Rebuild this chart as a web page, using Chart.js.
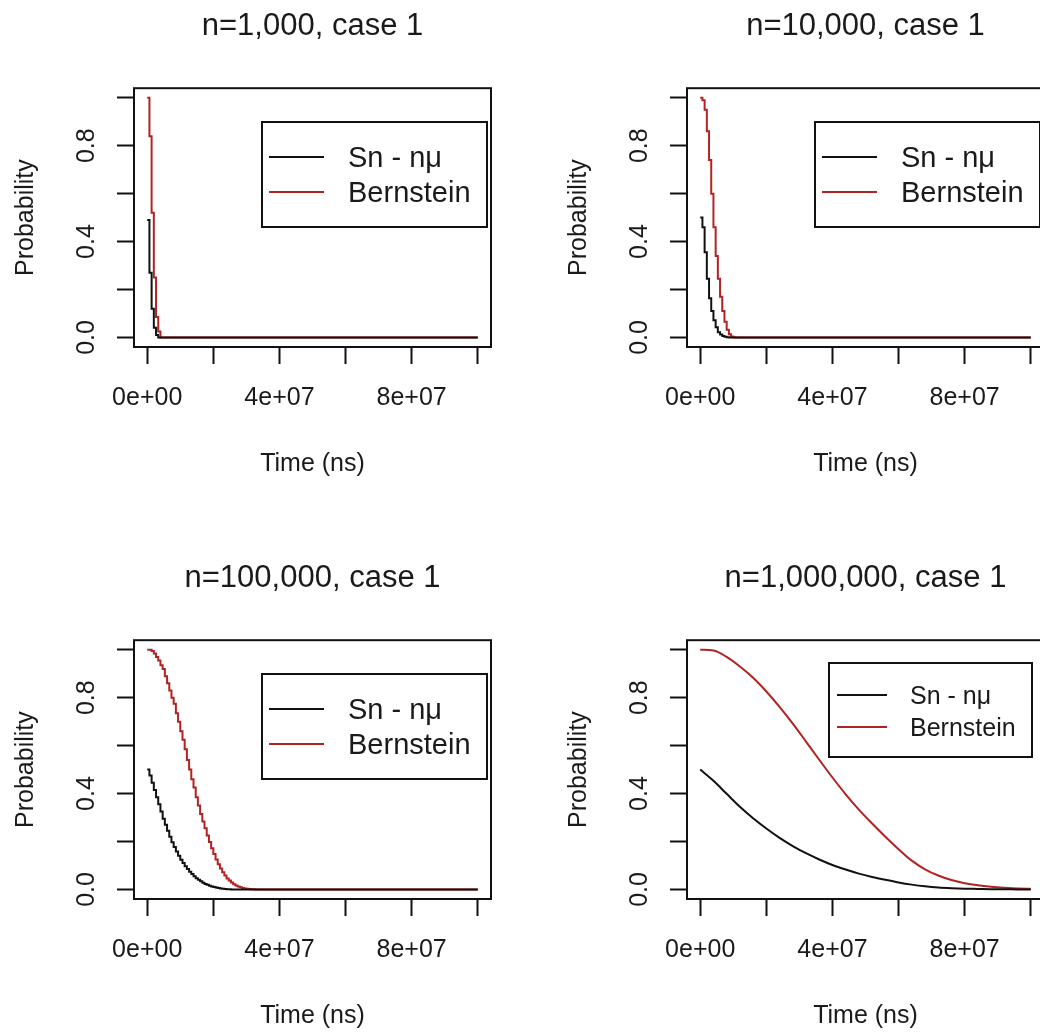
<!DOCTYPE html>
<html>
<head>
<meta charset="utf-8">
<script src="https://cdn.jsdelivr.net/npm/chart.js@4.4.1/dist/chart.umd.min.js"></script>
<style>
  html, body { margin: 0; padding: 0; background: #fff; overflow: hidden; width: 1040px; height: 1032px; }
  .panel { position: absolute; width: 552px; height: 552px; }
</style>
</head>
<body>
<div class="panel" style="left:0px;top:0px"><canvas id="p1" width="552" height="552"></canvas></div>
<div class="panel" style="left:553px;top:0px"><canvas id="p2" width="552" height="552"></canvas></div>
<div class="panel" style="left:0px;top:552px"><canvas id="p3" width="552" height="552"></canvas></div>
<div class="panel" style="left:553px;top:552px"><canvas id="p4" width="552" height="552"></canvas></div>
<script>
// sample times in units of 1e6 ns (the R grid, 1e8/150 apart)
const timeGrid = [0, 0.67, 1.33, 2, 2.67, 3.33, 4, 4.67, 5.33, 6, 6.67, 7.33, 8, 8.67, 9.33, 10,
  10.67, 11.33, 12, 12.67, 13.33, 14, 14.67, 15.33, 16, 16.67, 17.33, 18, 18.67, 19.33, 20,
  20.67, 21.33, 22, 22.67, 23.33, 24, 24.67, 25.33, 26, 26.67, 27.33, 28, 28.67, 29.33, 30,
  30.67, 31.33, 32, 32.67];
// coarser times for the n=1,000,000 panel
const coarseTime = [0, 4, 8, 12, 16, 20, 24, 28, 32, 36, 40, 44, 48, 52, 56, 60, 64, 68, 72, 76,
  80, 84, 88, 92, 96, 100];
const endTime = 100;

const n1kSn = [0.49, 0.27, 0.12, 0.04, 0.01, 0];
const n1kBern = [1.0, 0.84, 0.52, 0.25, 0.085, 0.025, 0];

const n10kSn = [0.50, 0.46, 0.355, 0.245, 0.163, 0.11, 0.072, 0.042, 0.022, 0.012, 0.006, 0.003, 0.001, 0];
const n10kBern = [1.0, 0.99, 0.95, 0.86, 0.74, 0.60, 0.46, 0.34, 0.245, 0.17, 0.11, 0.065, 0.032, 0.013, 0.004, 0.001, 0];

const n100kSn = [0.50, 0.475, 0.445, 0.415, 0.385, 0.355, 0.325, 0.295, 0.27, 0.245, 0.22, 0.197,
  0.177, 0.158, 0.14, 0.124, 0.11, 0.097, 0.085, 0.074, 0.064, 0.055, 0.047, 0.04, 0.034, 0.028,
  0.023, 0.019, 0.015, 0.012, 0.01, 0.008, 0.006, 0.004, 0.003, 0.002, 0.001, 0.001, 0];
const n100kBern = [1.0, 1.0, 0.995, 0.985, 0.97, 0.955, 0.935, 0.92, 0.89, 0.86, 0.83, 0.80, 0.775,
  0.735, 0.70, 0.66, 0.625, 0.585, 0.54, 0.50, 0.46, 0.425, 0.385, 0.35, 0.315, 0.283, 0.255,
  0.225, 0.198, 0.172, 0.148, 0.125, 0.105, 0.087, 0.072, 0.058, 0.046, 0.037, 0.029, 0.022,
  0.016, 0.012, 0.009, 0.006, 0.004, 0.003, 0.002, 0.001, 0.001, 0];

const n1mSn = [0.50, 0.453, 0.399, 0.345, 0.297, 0.254, 0.215, 0.181, 0.151, 0.125, 0.102, 0.083,
  0.066, 0.052, 0.04, 0.029, 0.02, 0.013, 0.008, 0.005, 0.003, 0.002, 0.001, 0.001, 0, 0];
const n1mBern = [1.0, 0.997, 0.97, 0.93, 0.883, 0.826, 0.762, 0.692, 0.617, 0.541, 0.467, 0.397,
  0.333, 0.275, 0.22, 0.168, 0.12, 0.084, 0.058, 0.039, 0.026, 0.017, 0.011, 0.007, 0.004, 0.003];

const xTickValues = [0, 2e7, 4e7, 6e7, 8e7, 1e8];
const xTickLabels = ['0e+00', '', '4e+07', '', '8e+07', ''];
const yTickValues = [0, 0.2, 0.4, 0.6, 0.8, 1];
const yTickLabels = ['0.0', '', '0.4', '', '0.8', ''];
const seriesNames = ['Sn - nμ', 'Bernstein'];
const seriesColors = ['#111111', '#b22222'];

const FONT = '"Liberation Sans", Arial, sans-serif';
Chart.defaults.font.family = FONT;
Chart.defaults.color = '#1a1a1a';

function toPoints(times, values) {
    const pts = values.map((v, i) => ({ x: times[i] * 1e6, y: v }));
    const last = times[values.length - 1];
    if (last < endTime) pts.push({ x: endTime * 1e6, y: values[values.length - 1] });
    return pts;
}

// the box round the plot region, as R draws it
const boxPlugin = {
    id: 'plotBox',
    afterDatasetsDraw(chart) {
        const { ctx, chartArea: a } = chart;
        ctx.save();
        ctx.strokeStyle = '#111';
        ctx.lineWidth = 2;
        ctx.strokeRect(a.left, a.top, a.right - a.left, a.bottom - a.top);
        ctx.restore();
    }
};

// R style legend box drawn inside the plot
function makeLegend(cfg) {
    return {
        id: 'rLegend',
        afterDraw(chart) {
            const ctx = chart.ctx;
            ctx.save();
            ctx.fillStyle = '#fff';
            ctx.fillRect(cfg.x, cfg.y, cfg.w, cfg.h);
            ctx.strokeStyle = '#111';
            ctx.lineWidth = 2;
            ctx.strokeRect(cfg.x, cfg.y, cfg.w, cfg.h);
            ctx.font = cfg.size + 'px ' + FONT;
            ctx.textBaseline = 'middle';
            ctx.fillStyle = '#1a1a1a';
            chart.data.datasets.forEach((ds, i) => {
                const y = cfg.rows[i];
                ctx.strokeStyle = ds.borderColor;
                ctx.lineWidth = 2;
                ctx.beginPath();
                ctx.moveTo(cfg.x1, y);
                ctx.lineTo(cfg.x2, y);
                ctx.stroke();
                ctx.fillText(ds.label, cfg.textX, y + 2);
            });
            ctx.restore();
        }
    };
}

function makePanel(id, title, snPts, bernPts, legendCfg, stepped) {
    const tickGrid = { drawOnChartArea: false, drawTicks: true, tickLength: 17, tickColor: '#111', tickWidth: 2 };
    return new Chart(document.getElementById(id), {
        type: 'line',
        data: {
            datasets: [
                { label: seriesNames[0], data: snPts, borderColor: seriesColors[0], borderWidth: 2,
                  pointRadius: 0, fill: false, stepped: stepped, cubicInterpolationMode: 'monotone' },
                { label: seriesNames[1], data: bernPts, borderColor: seriesColors[1], borderWidth: 2,
                  pointRadius: 0, fill: false, stepped: stepped, cubicInterpolationMode: 'monotone' }
            ]
        },
        options: {
            responsive: false,
            animation: false,
            events: [],
            layout: { padding: { left: 0, right: 61, top: 0, bottom: 0 } },
            plugins: {
                legend: { display: false },
                tooltip: { enabled: false },
                title: {
                    display: true, text: title, fullSize: false, color: '#1a1a1a',
                    font: { size: 31, weight: 'normal' },
                    padding: { top: 8, bottom: 43 }
                }
            },
            scales: {
                x: {
                    type: 'linear', min: -4e6, max: 1.04e8,
                    afterBuildTicks: ax => { ax.ticks = xTickValues.map(v => ({ value: v })); },
                    afterFit: ax => { ax.height = 205; },
                    grid: tickGrid,
                    border: { display: false },
                    ticks: {
                        padding: 19, maxRotation: 0, autoSkip: false, font: { size: 25 },
                        callback: v => xTickLabels[xTickValues.indexOf(v)] || ''
                    },
                    title: { display: true, text: 'Time (ns)', font: { size: 25 }, padding: { top: 0, bottom: 73 } }
                },
                y: {
                    type: 'linear', min: -0.04, max: 1.04,
                    afterBuildTicks: ax => { ax.ticks = yTickValues.map(v => ({ value: v })); },
                    afterFit: ax => { ax.width = 134; },
                    grid: tickGrid,
                    border: { display: false },
                    ticks: {
                        padding: 13, minRotation: 90, maxRotation: 90, crossAlign: 'center',
                        autoSkip: false, font: { size: 25 },
                        callback: v => yTickLabels[yTickValues.indexOf(v)] || ''
                    },
                    title: { display: true, text: 'Probability', font: { size: 25 }, padding: { top: 11, bottom: 0 } }
                }
            }
        },
        plugins: [boxPlugin, makeLegend(legendCfg)]
    });
}

const bigLegend = { x: 262, y: 122, w: 225, h: 105, x1: 269, x2: 324, rows: [157, 192], textX: 348, size: 29 };
const smallLegend = { x: 276, y: 111, w: 203, h: 94, x1: 284, x2: 334, rows: [143, 175], textX: 357, size: 25 };

makePanel('p1', 'n=1,000, case 1', toPoints(timeGrid, n1kSn), toPoints(timeGrid, n1kBern), bigLegend, true);
makePanel('p2', 'n=10,000, case 1', toPoints(timeGrid, n10kSn), toPoints(timeGrid, n10kBern), bigLegend, true);
makePanel('p3', 'n=100,000, case 1', toPoints(timeGrid, n100kSn), toPoints(timeGrid, n100kBern), bigLegend, true);
makePanel('p4', 'n=1,000,000, case 1', toPoints(coarseTime, n1mSn), toPoints(coarseTime, n1mBern), smallLegend, false);
</script>
</body>
</html>
